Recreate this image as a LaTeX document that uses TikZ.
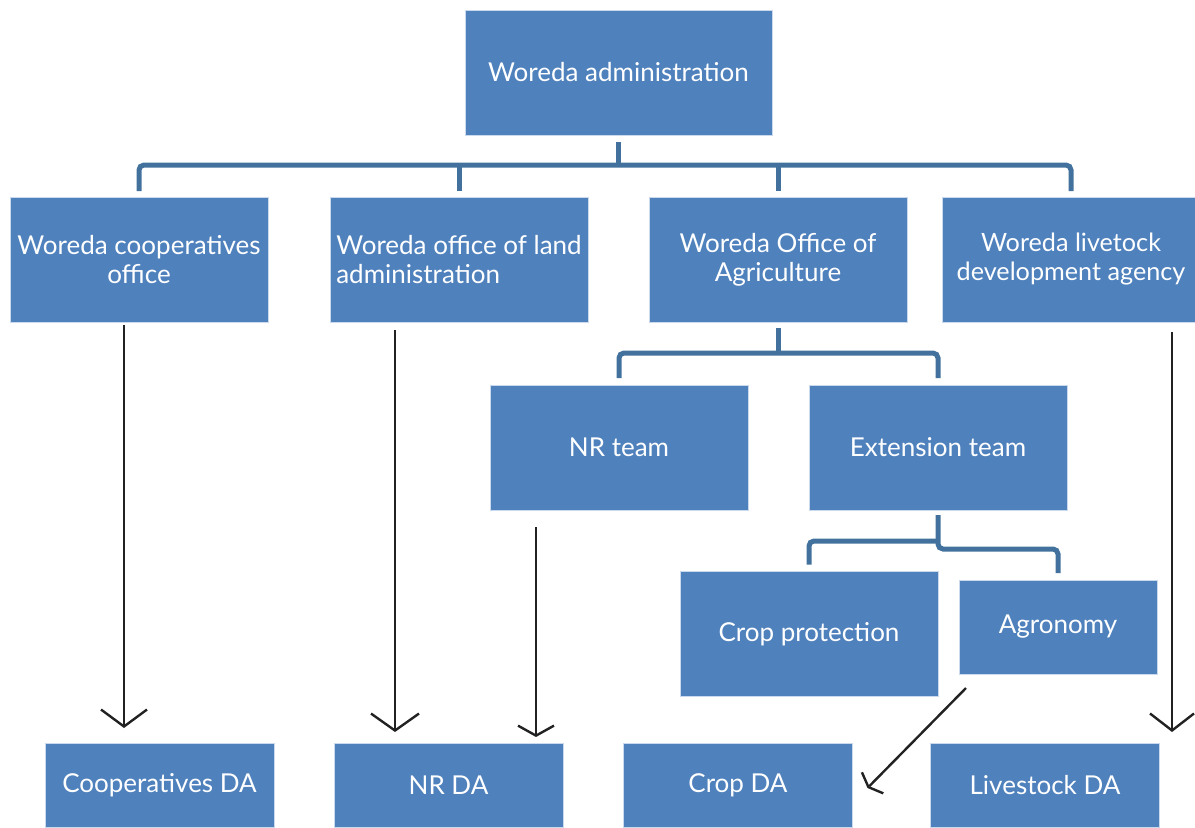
\documentclass[tikz,border=0pt]{standalone}
\usepackage{fontspec}
\setmainfont{Lato}
\usetikzlibrary{arrows.meta,positioning}
\definecolor{boxblue}{HTML}{4F81BD}
\definecolor{treeblue}{HTML}{41719C}
\definecolor{arrowgray}{HTML}{222222}

\begin{document}
\begin{tikzpicture}[
  x=0.5pt,y=-0.5pt,
  unit/.style={fill=boxblue,text=white,draw=white!70!boxblue,line width=0.4pt,inner sep=3pt,outer sep=0pt,
    minimum width=129pt,minimum height=62.5pt,align=center,font=\fontsize{13}{14.5}\selectfont},
  da/.style={unit,minimum width=114.5pt,minimum height=42pt},
  tree/.style={treeblue,line width=2.5pt,rounded corners=2.5pt},
  link/.style={arrowgray,line width=1.2pt,-{Straight Barb[length=8.5pt,width=23pt]}}
]
  \useasboundingbox (0,0) rectangle (1195,827);

  % offices
  \node[unit,minimum width=153.5pt] (admin) at (618.5,72.5) {Woreda administration};
  \node[unit] (coop) at (139,259.5) {Woreda cooperatives\\office};
  \node[unit,right=31pt of coop,align=left] (land) {Woreda office of land\\administration};
  \node[unit,right=30.5pt of land] (agri) {Woreda Office of\\Agriculture};
  \node[unit,right=17.5pt of agri,font=\fontsize{12.6}{14.5}\selectfont] (live) {Woreda livetock\\development agency};

  % teams under agriculture
  \node[unit] (nrteam) at (619,447.5) {NR team};
  \node[unit] (ext) at (938,447.5) {Extension team};
  \node[unit] (cropprot) at (809,634) {Crop protection};
  \node[unit,minimum width=99pt,minimum height=47pt] (agron) at (1058,627) {Agronomy};

  % development agents
  \node[da] (coopda) at (159.5,785) {Cooperatives DA};
  \node[da] (nrda) at (448.5,785) {NR DA};
  \node[da] (cropda) at (738,785) {Crop DA};
  \node[da] (liveda) at (1045,785) {Livestock DA};

  % org chart lines
  \coordinate (bus) at (618.5,165);
  \draw[tree] ([yshift=-3.5pt]admin.south) -- (bus);
  \draw[tree] ([yshift=3pt]coop.north) |- (bus) -| ([yshift=3pt]live.north);
  \draw[tree] ([yshift=3pt]land.north) -- (land.north |- bus);
  \draw[tree] ([yshift=3pt]agri.north) -- (agri.north |- bus);

  \draw[tree] ([yshift=-3pt]agri.south) -- ([yshift=-15.5pt]agri.south);
  \draw[tree] ([yshift=3.5pt]nrteam.north) |- ([yshift=-15.5pt]agri.south) -| ([yshift=3.5pt]ext.north);

  \draw[tree] ([yshift=-2.5pt]ext.south) -- ([yshift=-19.5pt]ext.south) -| ([yshift=3.5pt]agron.north);
  \draw[tree] ([yshift=-15.5pt]ext.south) -| ([yshift=3.5pt]cropprot.north);

  % arrows to the DAs
  \draw[link] ([xshift=-7.5pt,yshift=-1.5pt]coop.south) -- ([xshift=-17.75pt,yshift=7.5pt]coopda.north);
  \draw[link,-{Straight Barb[length=8.5pt,width=24pt]}] ([xshift=-32pt,yshift=-4pt]land.south) -- ([xshift=-26.75pt,yshift=5.5pt]nrda.north);
  \draw[link,-{Straight Barb[length=5pt,width=18pt]}] ([xshift=-41.5pt,yshift=-8.5pt]nrteam.south) -- ([xshift=43.75pt,yshift=3pt]nrda.north);
  \draw[link,-{Straight Barb[length=3pt,width=15pt]}] ([xshift=-46pt,yshift=-7pt]agron.south) -- ([xshift=7.5pt,yshift=-1.5pt]cropda.east);
  \draw[link,-{Straight Barb[length=8.5pt,width=22pt]}] ([xshift=50.5pt,yshift=-5pt]live.south) -- ([xshift=63.5pt,yshift=5.5pt]liveda.north);
\end{tikzpicture}
\end{document}
